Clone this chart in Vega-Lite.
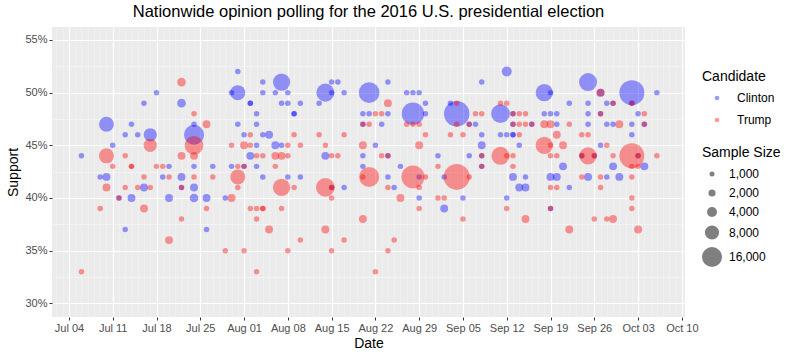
{
"$schema":"https://vega.github.io/schema/vega-lite/v6.json",
"width":633,"height":290,
"autosize":{"type":"none"},
"padding":{"left":52,"top":27,"right":115,"bottom":39},
"background":"white",
"title":{"text":"Nationwide opinion polling for the 2016 U.S. presidential election","fontSize":16.5,"font":"Liberation Sans","fontWeight":"normal","color":"black","anchor":"middle","frame":"group","offset":7},
"config":{"view":{"fill":"#EBEBEB","stroke":null},"font":"Liberation Sans"},
"data":{"values":[
{"date":"2016-07-06","candidate":"Clinton","support":44,"n":1200},
{"date":"2016-07-09","candidate":"Clinton","support":42,"n":1200},
{"date":"2016-07-10","candidate":"Clinton","support":47,"n":9000},
{"date":"2016-07-10","candidate":"Clinton","support":42,"n":2500},
{"date":"2016-07-11","candidate":"Clinton","support":45,"n":1200},
{"date":"2016-07-12","candidate":"Clinton","support":40,"n":1200},
{"date":"2016-07-13","candidate":"Clinton","support":46,"n":1200},
{"date":"2016-07-13","candidate":"Clinton","support":37,"n":1200},
{"date":"2016-07-14","candidate":"Clinton","support":47,"n":1200},
{"date":"2016-07-14","candidate":"Clinton","support":40,"n":2500},
{"date":"2016-07-15","candidate":"Clinton","support":46,"n":1200},
{"date":"2016-07-16","candidate":"Clinton","support":49,"n":1200},
{"date":"2016-07-16","candidate":"Clinton","support":41,"n":2500},
{"date":"2016-07-17","candidate":"Clinton","support":46,"n":7000},
{"date":"2016-07-18","candidate":"Clinton","support":50,"n":1200},
{"date":"2016-07-19","candidate":"Clinton","support":42,"n":1200},
{"date":"2016-07-20","candidate":"Clinton","support":43,"n":1200},
{"date":"2016-07-20","candidate":"Clinton","support":40,"n":2500},
{"date":"2016-07-22","candidate":"Clinton","support":49,"n":3000},
{"date":"2016-07-22","candidate":"Clinton","support":42,"n":2500},
{"date":"2016-07-22","candidate":"Clinton","support":41,"n":1200},
{"date":"2016-07-24","candidate":"Clinton","support":47,"n":1200},
{"date":"2016-07-24","candidate":"Clinton","support":46,"n":16000},
{"date":"2016-07-24","candidate":"Clinton","support":43,"n":1200},
{"date":"2016-07-24","candidate":"Clinton","support":41,"n":2500},
{"date":"2016-07-24","candidate":"Clinton","support":40,"n":3000},
{"date":"2016-07-26","candidate":"Clinton","support":40,"n":2500},
{"date":"2016-07-26","candidate":"Clinton","support":37,"n":1200},
{"date":"2016-07-27","candidate":"Clinton","support":43,"n":1200},
{"date":"2016-07-29","candidate":"Clinton","support":40,"n":1200},
{"date":"2016-07-30","candidate":"Clinton","support":43,"n":1200},
{"date":"2016-07-30","candidate":"Clinton","support":50,"n":1200},
{"date":"2016-07-31","candidate":"Clinton","support":52,"n":1200},
{"date":"2016-07-31","candidate":"Clinton","support":50,"n":9000},
{"date":"2016-07-31","candidate":"Clinton","support":47,"n":1200},
{"date":"2016-08-01","candidate":"Clinton","support":46,"n":1200},
{"date":"2016-08-01","candidate":"Clinton","support":43,"n":1200},
{"date":"2016-08-02","candidate":"Clinton","support":49,"n":1200},
{"date":"2016-08-02","candidate":"Clinton","support":49,"n":1200},
{"date":"2016-08-02","candidate":"Clinton","support":44,"n":2500},
{"date":"2016-08-03","candidate":"Clinton","support":48,"n":1200},
{"date":"2016-08-03","candidate":"Clinton","support":47,"n":1200},
{"date":"2016-08-03","candidate":"Clinton","support":45,"n":1200},
{"date":"2016-08-03","candidate":"Clinton","support":43,"n":1200},
{"date":"2016-08-04","candidate":"Clinton","support":51,"n":1200},
{"date":"2016-08-04","candidate":"Clinton","support":50,"n":1200},
{"date":"2016-08-04","candidate":"Clinton","support":46,"n":1200},
{"date":"2016-08-04","candidate":"Clinton","support":42,"n":1200},
{"date":"2016-08-05","candidate":"Clinton","support":46,"n":2500},
{"date":"2016-08-06","candidate":"Clinton","support":50,"n":1200},
{"date":"2016-08-06","candidate":"Clinton","support":45,"n":2500},
{"date":"2016-08-07","candidate":"Clinton","support":51,"n":12000},
{"date":"2016-08-07","candidate":"Clinton","support":49,"n":1200},
{"date":"2016-08-07","candidate":"Clinton","support":45,"n":1200},
{"date":"2016-08-08","candidate":"Clinton","support":50,"n":1200},
{"date":"2016-08-08","candidate":"Clinton","support":49,"n":1200},
{"date":"2016-08-08","candidate":"Clinton","support":42,"n":1200},
{"date":"2016-08-09","candidate":"Clinton","support":48,"n":1200},
{"date":"2016-08-09","candidate":"Clinton","support":48,"n":1200},
{"date":"2016-08-10","candidate":"Clinton","support":49,"n":1200},
{"date":"2016-08-10","candidate":"Clinton","support":42,"n":1200},
{"date":"2016-08-13","candidate":"Clinton","support":49,"n":1200},
{"date":"2016-08-14","candidate":"Clinton","support":50,"n":13000},
{"date":"2016-08-14","candidate":"Clinton","support":44,"n":2500},
{"date":"2016-08-15","candidate":"Clinton","support":51,"n":1200},
{"date":"2016-08-15","candidate":"Clinton","support":50,"n":1200},
{"date":"2016-08-15","candidate":"Clinton","support":41,"n":1200},
{"date":"2016-08-16","candidate":"Clinton","support":51,"n":1200},
{"date":"2016-08-17","candidate":"Clinton","support":50,"n":1200},
{"date":"2016-08-17","candidate":"Clinton","support":41,"n":1200},
{"date":"2016-08-20","candidate":"Clinton","support":48,"n":1200},
{"date":"2016-08-20","candidate":"Clinton","support":47,"n":1200},
{"date":"2016-08-20","candidate":"Clinton","support":44,"n":1200},
{"date":"2016-08-20","candidate":"Clinton","support":43,"n":1200},
{"date":"2016-08-21","candidate":"Clinton","support":50,"n":17000},
{"date":"2016-08-21","candidate":"Clinton","support":48,"n":1200},
{"date":"2016-08-22","candidate":"Clinton","support":45,"n":1200},
{"date":"2016-08-23","candidate":"Clinton","support":47,"n":1200},
{"date":"2016-08-24","candidate":"Clinton","support":51,"n":1200},
{"date":"2016-08-24","candidate":"Clinton","support":48,"n":1200},
{"date":"2016-08-24","candidate":"Clinton","support":44,"n":1200},
{"date":"2016-08-24","candidate":"Clinton","support":42,"n":1200},
{"date":"2016-08-25","candidate":"Clinton","support":41,"n":1200},
{"date":"2016-08-26","candidate":"Clinton","support":43,"n":1200},
{"date":"2016-08-27","candidate":"Clinton","support":50,"n":1200},
{"date":"2016-08-28","candidate":"Clinton","support":50,"n":1200},
{"date":"2016-08-28","candidate":"Clinton","support":48,"n":20000},
{"date":"2016-08-29","candidate":"Clinton","support":50,"n":1200},
{"date":"2016-08-29","candidate":"Clinton","support":42,"n":1200},
{"date":"2016-08-29","candidate":"Clinton","support":40,"n":1200},
{"date":"2016-08-30","candidate":"Clinton","support":49,"n":1200},
{"date":"2016-08-30","candidate":"Clinton","support":48,"n":1200},
{"date":"2016-09-01","candidate":"Clinton","support":44,"n":1200},
{"date":"2016-09-02","candidate":"Clinton","support":42,"n":1200},
{"date":"2016-09-02","candidate":"Clinton","support":39,"n":2500},
{"date":"2016-09-03","candidate":"Clinton","support":49,"n":1200},
{"date":"2016-09-04","candidate":"Clinton","support":48,"n":26000},
{"date":"2016-09-05","candidate":"Clinton","support":40,"n":1200},
{"date":"2016-09-06","candidate":"Clinton","support":47,"n":1200},
{"date":"2016-09-06","candidate":"Clinton","support":44,"n":1200},
{"date":"2016-09-07","candidate":"Clinton","support":47,"n":1200},
{"date":"2016-09-08","candidate":"Clinton","support":51,"n":1200},
{"date":"2016-09-08","candidate":"Clinton","support":46,"n":1200},
{"date":"2016-09-08","candidate":"Clinton","support":45,"n":2500},
{"date":"2016-09-08","candidate":"Clinton","support":44,"n":1200},
{"date":"2016-09-08","candidate":"Clinton","support":43,"n":1200},
{"date":"2016-09-11","candidate":"Clinton","support":48,"n":14000},
{"date":"2016-09-11","candidate":"Clinton","support":46,"n":1200},
{"date":"2016-09-12","candidate":"Clinton","support":52,"n":4000},
{"date":"2016-09-12","candidate":"Clinton","support":46,"n":1200},
{"date":"2016-09-12","candidate":"Clinton","support":40,"n":1200},
{"date":"2016-09-13","candidate":"Clinton","support":48,"n":1200},
{"date":"2016-09-13","candidate":"Clinton","support":47,"n":1200},
{"date":"2016-09-13","candidate":"Clinton","support":46,"n":1200},
{"date":"2016-09-13","candidate":"Clinton","support":46,"n":1200},
{"date":"2016-09-13","candidate":"Clinton","support":42,"n":2500},
{"date":"2016-09-14","candidate":"Clinton","support":45,"n":1200},
{"date":"2016-09-14","candidate":"Clinton","support":41,"n":2500},
{"date":"2016-09-15","candidate":"Clinton","support":41,"n":2500},
{"date":"2016-09-15","candidate":"Clinton","support":42,"n":1200},
{"date":"2016-09-16","candidate":"Clinton","support":47,"n":1200},
{"date":"2016-09-18","candidate":"Clinton","support":50,"n":12000},
{"date":"2016-09-18","candidate":"Clinton","support":48,"n":1200},
{"date":"2016-09-19","candidate":"Clinton","support":50,"n":1200},
{"date":"2016-09-19","candidate":"Clinton","support":48,"n":1200},
{"date":"2016-09-19","candidate":"Clinton","support":42,"n":2500},
{"date":"2016-09-19","candidate":"Clinton","support":39,"n":1200},
{"date":"2016-09-20","candidate":"Clinton","support":48,"n":1200},
{"date":"2016-09-20","candidate":"Clinton","support":47,"n":1200},
{"date":"2016-09-20","candidate":"Clinton","support":42,"n":2500},
{"date":"2016-09-21","candidate":"Clinton","support":43,"n":2500},
{"date":"2016-09-22","candidate":"Clinton","support":49,"n":1200},
{"date":"2016-09-22","candidate":"Clinton","support":41,"n":1200},
{"date":"2016-09-24","candidate":"Clinton","support":44,"n":1200},
{"date":"2016-09-25","candidate":"Clinton","support":51,"n":13000},
{"date":"2016-09-25","candidate":"Clinton","support":49,"n":1200},
{"date":"2016-09-25","candidate":"Clinton","support":48,"n":1200},
{"date":"2016-09-25","candidate":"Clinton","support":47,"n":1200},
{"date":"2016-09-25","candidate":"Clinton","support":42,"n":2500},
{"date":"2016-09-26","candidate":"Clinton","support":44,"n":1200},
{"date":"2016-09-27","candidate":"Clinton","support":50,"n":2500},
{"date":"2016-09-27","candidate":"Clinton","support":48,"n":1200},
{"date":"2016-09-27","candidate":"Clinton","support":45,"n":1200},
{"date":"2016-09-28","candidate":"Clinton","support":49,"n":1200},
{"date":"2016-09-28","candidate":"Clinton","support":47,"n":1200},
{"date":"2016-09-28","candidate":"Clinton","support":42,"n":1200},
{"date":"2016-09-29","candidate":"Clinton","support":49,"n":1200},
{"date":"2016-09-29","candidate":"Clinton","support":47,"n":1200},
{"date":"2016-09-29","candidate":"Clinton","support":43,"n":2500},
{"date":"2016-09-30","candidate":"Clinton","support":42,"n":2500},
{"date":"2016-10-02","candidate":"Clinton","support":50,"n":25000},
{"date":"2016-10-02","candidate":"Clinton","support":49,"n":1200},
{"date":"2016-10-02","candidate":"Clinton","support":47,"n":1200},
{"date":"2016-10-02","candidate":"Clinton","support":46,"n":1200},
{"date":"2016-10-03","candidate":"Clinton","support":48,"n":1200},
{"date":"2016-10-03","candidate":"Clinton","support":44,"n":1200},
{"date":"2016-10-04","candidate":"Clinton","support":47,"n":1200},
{"date":"2016-10-04","candidate":"Clinton","support":43,"n":2500},
{"date":"2016-10-06","candidate":"Clinton","support":50,"n":1200},
{"date":"2016-07-06","candidate":"Trump","support":33,"n":1200},
{"date":"2016-07-09","candidate":"Trump","support":39,"n":1200},
{"date":"2016-07-10","candidate":"Trump","support":44,"n":9000},
{"date":"2016-07-10","candidate":"Trump","support":41,"n":2500},
{"date":"2016-07-11","candidate":"Trump","support":43,"n":1200},
{"date":"2016-07-12","candidate":"Trump","support":40,"n":1200},
{"date":"2016-07-13","candidate":"Trump","support":44,"n":1200},
{"date":"2016-07-13","candidate":"Trump","support":41,"n":1200},
{"date":"2016-07-14","candidate":"Trump","support":43,"n":1200},
{"date":"2016-07-14","candidate":"Trump","support":43,"n":1200},
{"date":"2016-07-15","candidate":"Trump","support":41,"n":1200},
{"date":"2016-07-16","candidate":"Trump","support":42,"n":1200},
{"date":"2016-07-16","candidate":"Trump","support":39,"n":2500},
{"date":"2016-07-17","candidate":"Trump","support":45,"n":7000},
{"date":"2016-07-17","candidate":"Trump","support":41,"n":1200},
{"date":"2016-07-18","candidate":"Trump","support":43,"n":1200},
{"date":"2016-07-19","candidate":"Trump","support":43,"n":1200},
{"date":"2016-07-20","candidate":"Trump","support":42,"n":1200},
{"date":"2016-07-20","candidate":"Trump","support":36,"n":2500},
{"date":"2016-07-22","candidate":"Trump","support":51,"n":3000},
{"date":"2016-07-22","candidate":"Trump","support":44,"n":2500},
{"date":"2016-07-22","candidate":"Trump","support":41,"n":1200},
{"date":"2016-07-22","candidate":"Trump","support":38,"n":1200},
{"date":"2016-07-24","candidate":"Trump","support":48,"n":1200},
{"date":"2016-07-24","candidate":"Trump","support":45,"n":14000},
{"date":"2016-07-24","candidate":"Trump","support":44,"n":2500},
{"date":"2016-07-24","candidate":"Trump","support":42,"n":1200},
{"date":"2016-07-26","candidate":"Trump","support":47,"n":2500},
{"date":"2016-07-26","candidate":"Trump","support":39,"n":1200},
{"date":"2016-07-27","candidate":"Trump","support":42,"n":1200},
{"date":"2016-07-29","candidate":"Trump","support":35,"n":1200},
{"date":"2016-07-30","candidate":"Trump","support":45,"n":1200},
{"date":"2016-07-30","candidate":"Trump","support":40,"n":2500},
{"date":"2016-07-31","candidate":"Trump","support":42,"n":9000},
{"date":"2016-07-31","candidate":"Trump","support":43,"n":1200},
{"date":"2016-07-31","candidate":"Trump","support":41,"n":1200},
{"date":"2016-08-01","candidate":"Trump","support":45,"n":2500},
{"date":"2016-08-01","candidate":"Trump","support":43,"n":1200},
{"date":"2016-08-01","candidate":"Trump","support":35,"n":1200},
{"date":"2016-08-02","candidate":"Trump","support":46,"n":1200},
{"date":"2016-08-02","candidate":"Trump","support":45,"n":1200},
{"date":"2016-08-02","candidate":"Trump","support":39,"n":1200},
{"date":"2016-08-03","candidate":"Trump","support":44,"n":1200},
{"date":"2016-08-03","candidate":"Trump","support":39,"n":1200},
{"date":"2016-08-03","candidate":"Trump","support":38,"n":1200},
{"date":"2016-08-03","candidate":"Trump","support":33,"n":1200},
{"date":"2016-08-04","candidate":"Trump","support":44,"n":1200},
{"date":"2016-08-04","candidate":"Trump","support":39,"n":1200},
{"date":"2016-08-04","candidate":"Trump","support":39,"n":1200},
{"date":"2016-08-05","candidate":"Trump","support":37,"n":2500},
{"date":"2016-08-06","candidate":"Trump","support":44,"n":2500},
{"date":"2016-08-06","candidate":"Trump","support":43,"n":1200},
{"date":"2016-08-07","candidate":"Trump","support":44,"n":2500},
{"date":"2016-08-07","candidate":"Trump","support":41,"n":12000},
{"date":"2016-08-07","candidate":"Trump","support":39,"n":1200},
{"date":"2016-08-08","candidate":"Trump","support":45,"n":1200},
{"date":"2016-08-08","candidate":"Trump","support":44,"n":1200},
{"date":"2016-08-08","candidate":"Trump","support":35,"n":1200},
{"date":"2016-08-09","candidate":"Trump","support":46,"n":1200},
{"date":"2016-08-09","candidate":"Trump","support":41,"n":1200},
{"date":"2016-08-10","candidate":"Trump","support":45,"n":1200},
{"date":"2016-08-10","candidate":"Trump","support":36,"n":1200},
{"date":"2016-08-13","candidate":"Trump","support":46,"n":1200},
{"date":"2016-08-14","candidate":"Trump","support":45,"n":1200},
{"date":"2016-08-14","candidate":"Trump","support":41,"n":14000},
{"date":"2016-08-14","candidate":"Trump","support":37,"n":2500},
{"date":"2016-08-15","candidate":"Trump","support":44,"n":1200},
{"date":"2016-08-15","candidate":"Trump","support":41,"n":1200},
{"date":"2016-08-15","candidate":"Trump","support":40,"n":1200},
{"date":"2016-08-15","candidate":"Trump","support":35,"n":1200},
{"date":"2016-08-16","candidate":"Trump","support":44,"n":1200},
{"date":"2016-08-17","candidate":"Trump","support":46,"n":1200},
{"date":"2016-08-17","candidate":"Trump","support":36,"n":1200},
{"date":"2016-08-20","candidate":"Trump","support":47,"n":1200},
{"date":"2016-08-20","candidate":"Trump","support":45,"n":2500},
{"date":"2016-08-20","candidate":"Trump","support":42,"n":1200},
{"date":"2016-08-20","candidate":"Trump","support":38,"n":2500},
{"date":"2016-08-21","candidate":"Trump","support":47,"n":1200},
{"date":"2016-08-21","candidate":"Trump","support":42,"n":16000},
{"date":"2016-08-22","candidate":"Trump","support":48,"n":1200},
{"date":"2016-08-22","candidate":"Trump","support":33,"n":1200},
{"date":"2016-08-23","candidate":"Trump","support":48,"n":1200},
{"date":"2016-08-23","candidate":"Trump","support":44,"n":1200},
{"date":"2016-08-24","candidate":"Trump","support":49,"n":2500},
{"date":"2016-08-24","candidate":"Trump","support":44,"n":1200},
{"date":"2016-08-24","candidate":"Trump","support":41,"n":1200},
{"date":"2016-08-24","candidate":"Trump","support":35,"n":1200},
{"date":"2016-08-25","candidate":"Trump","support":36,"n":1200},
{"date":"2016-08-26","candidate":"Trump","support":40,"n":2500},
{"date":"2016-08-27","candidate":"Trump","support":47,"n":1200},
{"date":"2016-08-28","candidate":"Trump","support":47,"n":1200},
{"date":"2016-08-28","candidate":"Trump","support":42,"n":21000},
{"date":"2016-08-29","candidate":"Trump","support":47,"n":1200},
{"date":"2016-08-29","candidate":"Trump","support":45,"n":2500},
{"date":"2016-08-29","candidate":"Trump","support":41,"n":1200},
{"date":"2016-08-29","candidate":"Trump","support":39,"n":1200},
{"date":"2016-08-30","candidate":"Trump","support":46,"n":1200},
{"date":"2016-08-30","candidate":"Trump","support":42,"n":1200},
{"date":"2016-09-01","candidate":"Trump","support":43,"n":1200},
{"date":"2016-09-01","candidate":"Trump","support":40,"n":1200},
{"date":"2016-09-02","candidate":"Trump","support":40,"n":1200},
{"date":"2016-09-03","candidate":"Trump","support":46,"n":1200},
{"date":"2016-09-04","candidate":"Trump","support":49,"n":1200},
{"date":"2016-09-04","candidate":"Trump","support":47,"n":1200},
{"date":"2016-09-04","candidate":"Trump","support":42,"n":27000},
{"date":"2016-09-05","candidate":"Trump","support":46,"n":1200},
{"date":"2016-09-05","candidate":"Trump","support":38,"n":1200},
{"date":"2016-09-06","candidate":"Trump","support":47,"n":1200},
{"date":"2016-09-06","candidate":"Trump","support":42,"n":1200},
{"date":"2016-09-07","candidate":"Trump","support":48,"n":1200},
{"date":"2016-09-08","candidate":"Trump","support":48,"n":1200},
{"date":"2016-09-08","candidate":"Trump","support":44,"n":1200},
{"date":"2016-09-08","candidate":"Trump","support":43,"n":1200},
{"date":"2016-09-11","candidate":"Trump","support":49,"n":1200},
{"date":"2016-09-11","candidate":"Trump","support":44,"n":13000},
{"date":"2016-09-12","candidate":"Trump","support":49,"n":1200},
{"date":"2016-09-12","candidate":"Trump","support":44,"n":1200},
{"date":"2016-09-12","candidate":"Trump","support":39,"n":1200},
{"date":"2016-09-13","candidate":"Trump","support":48,"n":1200},
{"date":"2016-09-13","candidate":"Trump","support":47,"n":1200},
{"date":"2016-09-13","candidate":"Trump","support":44,"n":1200},
{"date":"2016-09-13","candidate":"Trump","support":43,"n":1200},
{"date":"2016-09-14","candidate":"Trump","support":48,"n":1200},
{"date":"2016-09-14","candidate":"Trump","support":47,"n":1200},
{"date":"2016-09-14","candidate":"Trump","support":46,"n":1200},
{"date":"2016-09-15","candidate":"Trump","support":48,"n":1200},
{"date":"2016-09-15","candidate":"Trump","support":47,"n":1200},
{"date":"2016-09-15","candidate":"Trump","support":38,"n":2500},
{"date":"2016-09-16","candidate":"Trump","support":47,"n":1200},
{"date":"2016-09-18","candidate":"Trump","support":47,"n":2500},
{"date":"2016-09-18","candidate":"Trump","support":45,"n":12000},
{"date":"2016-09-19","candidate":"Trump","support":47,"n":2500},
{"date":"2016-09-19","candidate":"Trump","support":45,"n":1200},
{"date":"2016-09-19","candidate":"Trump","support":44,"n":1200},
{"date":"2016-09-19","candidate":"Trump","support":41,"n":1200},
{"date":"2016-09-19","candidate":"Trump","support":39,"n":1200},
{"date":"2016-09-20","candidate":"Trump","support":46,"n":2500},
{"date":"2016-09-20","candidate":"Trump","support":44,"n":1200},
{"date":"2016-09-20","candidate":"Trump","support":41,"n":1200},
{"date":"2016-09-21","candidate":"Trump","support":45,"n":2500},
{"date":"2016-09-22","candidate":"Trump","support":47,"n":1200},
{"date":"2016-09-22","candidate":"Trump","support":37,"n":2500},
{"date":"2016-09-24","candidate":"Trump","support":46,"n":1200},
{"date":"2016-09-24","candidate":"Trump","support":44,"n":1200},
{"date":"2016-09-24","candidate":"Trump","support":42,"n":1200},
{"date":"2016-09-25","candidate":"Trump","support":46,"n":1200},
{"date":"2016-09-25","candidate":"Trump","support":44,"n":12000},
{"date":"2016-09-26","candidate":"Trump","support":44,"n":1200},
{"date":"2016-09-26","candidate":"Trump","support":38,"n":1200},
{"date":"2016-09-27","candidate":"Trump","support":50,"n":2500},
{"date":"2016-09-27","candidate":"Trump","support":48,"n":1200},
{"date":"2016-09-27","candidate":"Trump","support":42,"n":1200},
{"date":"2016-09-27","candidate":"Trump","support":41,"n":1200},
{"date":"2016-09-28","candidate":"Trump","support":45,"n":1200},
{"date":"2016-09-28","candidate":"Trump","support":38,"n":1200},
{"date":"2016-09-29","candidate":"Trump","support":49,"n":1200},
{"date":"2016-09-29","candidate":"Trump","support":44,"n":1200},
{"date":"2016-09-29","candidate":"Trump","support":38,"n":2500},
{"date":"2016-09-30","candidate":"Trump","support":47,"n":2500},
{"date":"2016-10-02","candidate":"Trump","support":49,"n":1200},
{"date":"2016-10-02","candidate":"Trump","support":44,"n":25000},
{"date":"2016-10-02","candidate":"Trump","support":43,"n":1200},
{"date":"2016-10-02","candidate":"Trump","support":42,"n":1200},
{"date":"2016-10-02","candidate":"Trump","support":40,"n":1200},
{"date":"2016-10-02","candidate":"Trump","support":39,"n":1200},
{"date":"2016-10-03","candidate":"Trump","support":44,"n":1200},
{"date":"2016-10-03","candidate":"Trump","support":43,"n":1200},
{"date":"2016-10-03","candidate":"Trump","support":37,"n":2500},
{"date":"2016-10-04","candidate":"Trump","support":48,"n":1200},
{"date":"2016-10-04","candidate":"Trump","support":47,"n":1200},
{"date":"2016-10-06","candidate":"Trump","support":44,"n":1200}
]},
"mark":{"type":"circle","opacity":0.4,"strokeWidth":0},
"encoding":{
"x":{"field":"date","type":"temporal","title":"Date",
"scale":{"type":"utc","domain":[{"year":2016,"month":7,"date":1,"hours":7,"utc":true},{"year":2016,"month":10,"date":10,"hours":12,"utc":true}]},
"axis":{"tickCount":{"interval":"day","step":1},
"labelExpr":"utcday(datum.value) === 1 ? utcFormat(datum.value, '%b %d') : ''",
"grid":true,"gridColor":"white",
"gridWidth":{"condition":{"test":"utcday(datum.value) === 1","value":1.2},"value":0.5},
"gridOpacity":{"condition":{"test":"utcday(datum.value) === 1","value":1},"value":0.55},
"tickOpacity":{"condition":{"test":"utcday(datum.value) === 1","value":1},"value":0},
"tickColor":"#333333","tickSize":3,"domain":false,
"labelColor":"#4D4D4D","labelFontSize":11,"labelPadding":2,"labelOverlap":false,"labelFlush":false,
"titleFontSize":14,"titleFontWeight":"normal","titleColor":"black","titlePadding":3}},
"y":{"field":"support","type":"quantitative","title":"Support",
"scale":{"domain":[28.7,56.23],"nice":false,"zero":false},
"axis":{"values":[30,32.5,35,37.5,40,42.5,45,47.5,50,52.5,55],
"labelExpr":"datum.value % 5 === 0 ? datum.value + '%' : ''",
"grid":true,"gridColor":"white",
"gridWidth":{"condition":{"test":"datum.value % 5 === 0","value":1.2},"value":0.6},
"gridOpacity":{"condition":{"test":"datum.value % 5 === 0","value":1},"value":0.7},
"tickOpacity":{"condition":{"test":"datum.value % 5 === 0","value":1},"value":0},
"tickColor":"#333333","tickSize":3,"domain":false,
"labelColor":"#4D4D4D","labelFontSize":11,"labelPadding":2,"labelOverlap":false,"labelFlush":false,
"titleFontSize":14,"titleFontWeight":"normal","titleColor":"black","titlePadding":4}},
"color":{"field":"candidate","type":"nominal","title":"Candidate",
"scale":{"domain":["Clinton","Trump"],"range":["#0000FF","#FF0000"]},
"legend":{"orient":"none","legendX":650,"legendY":43,"symbolType":"circle","symbolSize":22,"symbolOffset":9,"labelOffset":14,"titleFontSize":14,"titleFontWeight":"normal","titleColor":"black","labelFontSize":12,"labelColor":"black","rowPadding":10,"titlePadding":8}},
"size":{"field":"n","type":"quantitative","title":"Sample Size",
"scale":{"type":"linear","domain":[0,16000],"range":[0,400]},
"legend":{"orient":"none","legendX":650,"legendY":119,"values":[1000,2000,4000,8000,16000],"labelExpr":"format(datum.value, ',')","symbolType":"circle","symbolFillColor":"#000000","symbolOpacity":0.5,"symbolStrokeWidth":0,"labelOffset":7,"titleFontSize":14,"titleFontWeight":"normal","titleColor":"black","labelFontSize":12,"labelColor":"black","rowPadding":7,"titlePadding":8}}
}
}
